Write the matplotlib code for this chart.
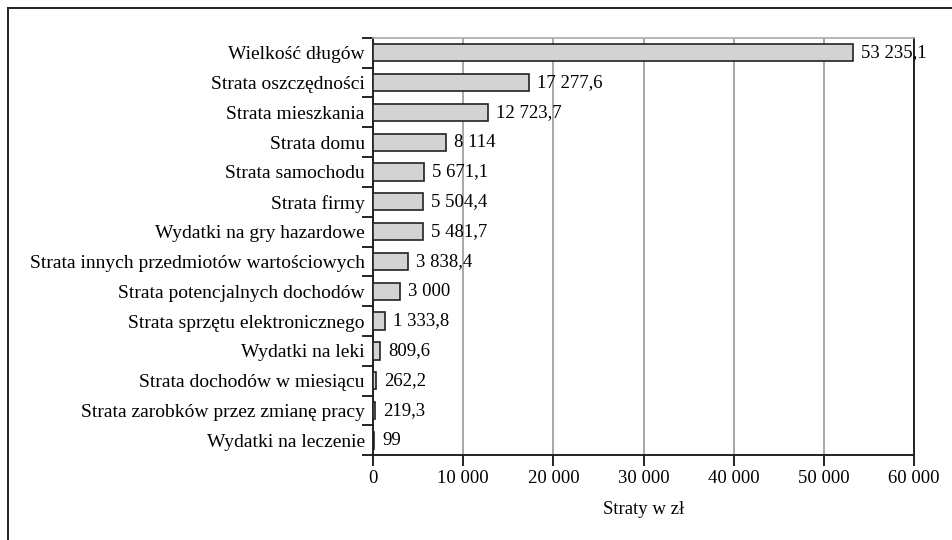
import matplotlib.pyplot as plt
from matplotlib.lines import Line2D

categories = [
    'Wielkość długów',
    'Strata oszczędności',
    'Strata mieszkania',
    'Strata domu',
    'Strata samochodu',
    'Strata firmy',
    'Wydatki na gry hazardowe',
    'Strata innych przedmiotów wartościowych',
    'Strata potencjalnych dochodów',
    'Strata sprzętu elektronicznego',
    'Wydatki na leki',
    'Strata dochodów w miesiącu',
    'Strata zarobków przez zmianę pracy',
    'Wydatki na leczenie',
]
values = [53235.1, 17277.6, 12723.7, 8114, 5671.1, 5504.4, 5481.7,
          3838.4, 3000, 1333.8, 809.6, 262.2, 219.3, 99]
xticks = [0, 10000, 20000, 30000, 40000, 50000, 60000]


def fmt(v):
    # Polish style: space as thousands separator, comma as decimal mark
    if float(v).is_integer():
        s = '{:,.0f}'.format(v)
    else:
        s = '{:,.1f}'.format(v)
    return s.replace(',', ' ').replace('.', ',')


plt.rcParams['font.family'] = ['Liberation Serif', 'DejaVu Serif']
plt.rcParams['font.size'] = 13

fig = plt.figure(figsize=(9.52, 5.4), dpi=100)
ax = fig.add_axes([0.392, 0.157, 0.568, 0.773])

y = list(range(len(categories)))[::-1]
ax.barh(y, values, height=0.58, color='#d3d3d3', edgecolor='#222222', linewidth=1.2, zorder=3)

for yi, v in zip(y, values):
    ax.text(v + 900, yi, fmt(v), va='center', ha='left', fontsize=13.5, clip_on=False, zorder=4)

ax.set_xlim(0, 60000)
ax.set_ylim(-0.5, len(categories) - 0.5)
ax.set_xticks(xticks)
ax.set_xticklabels([fmt(t) for t in xticks], fontsize=13.5)
ax.set_yticks(y)
ax.set_yticklabels(categories, fontsize=14)
ax.tick_params(axis='y', length=0, pad=6)
# category boundary ticks on the left spine
ax.set_yticks([i - 0.5 for i in range(len(categories) + 1)], minor=True)
ax.tick_params(axis='y', which='minor', length=8, width=1.2, direction='out')
ax.tick_params(axis='x', length=8, width=1.2, direction='out', pad=3)
ax.set_xlabel('Straty w zł', labelpad=10, fontsize=13.5)

ax.xaxis.grid(True, color='#999999', linewidth=1.2, zorder=0)
for s in ['left', 'bottom', 'right']:
    ax.spines[s].set_linewidth(1.4)
    ax.spines[s].set_color('#222222')
ax.spines['top'].set_color('#aaaaaa')
ax.spines['top'].set_linewidth(1.2)

# outer frame (top and left edges)
fig.add_artist(Line2D([8 / 952, 1.0], [1 - 8 / 540, 1 - 8 / 540], color='#222222', linewidth=1.4))
fig.add_artist(Line2D([8 / 952, 8 / 952], [0, 1 - 8 / 540], color='#222222', linewidth=1.4))

fig.savefig('out.png', dpi=100)
